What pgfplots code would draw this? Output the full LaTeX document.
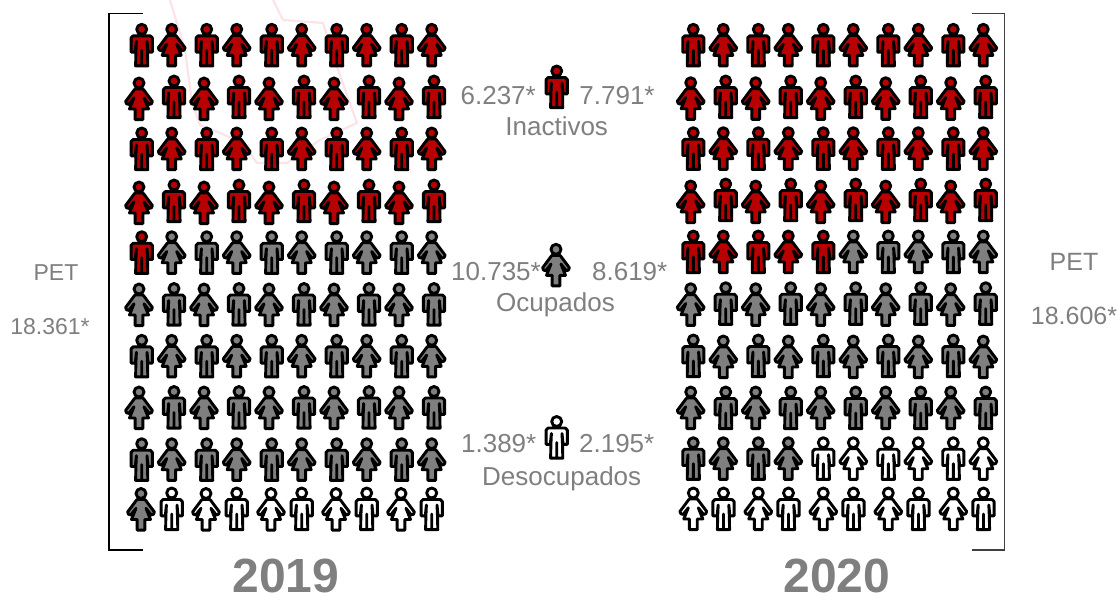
\documentclass[border=0pt]{standalone}
\usepackage{fontspec}
\setmainfont{Liberation Sans}
\usepackage{pgfplots}
\pgfplotsset{compat=1.18}

\definecolor{rojo}{HTML}{B80000}
\definecolor{gris}{HTML}{7F7F7F}
\definecolor{marca}{HTML}{FBE4E9}

\newcommand\mm[2]{\pgfpathmoveto{\pgfqpoint{#1pt}{#2pt}}}
\newcommand\ml[2]{\pgfpathlineto{\pgfqpoint{#1pt}{#2pt}}}

\pgfdeclareplotmark{man}{%
  \pgfsetroundjoin
  \pgfpathcircle{\pgfqpoint{0pt}{16pt}}{5pt}
  \mm{0}{9.5}\ml{8.5}{9.5}\ml{10.6}{7.5}\ml{10.6}{-6.8}\ml{6.4}{-6.8}\ml{5.3}{4}\ml{5.8}{-7}
  \ml{6.1}{-20.6}\ml{0}{-20.6}\ml{0}{-5}\ml{0}{-20.6}\ml{-6.1}{-20.6}
  \ml{-5.8}{-7}\ml{-5.3}{4}\ml{-6.4}{-6.8}\ml{-10.6}{-6.8}\ml{-10.6}{7.5}\ml{-8.5}{9.5}
  \pgfpathclose
  \pgfusepathqfillstroke
}
\pgfdeclareplotmark{woman}{%
  \pgfsetroundjoin
  \pgfpathcircle{\pgfqpoint{0pt}{16pt}}{5pt}
  \mm{0}{10}\ml{3.5}{10}\ml{4.6}{9.3}\ml{13.4}{-2.5}\ml{12.4}{-4.8}\ml{10.2}{-5.4}\ml{5}{1.2}\ml{9.5}{-10}
  \ml{3.9}{-10}\ml{3.9}{-20.6}\ml{-3.9}{-20.6}\ml{-3.9}{-10}\ml{-9.5}{-10}
  \ml{-5}{1.2}\ml{-10.2}{-5.4}\ml{-12.4}{-4.8}\ml{-13.4}{-2.5}\ml{-4.6}{9.3}\ml{-3.5}{10}
  \pgfpathclose
  \pgfusepathqfillstroke
}
\pgfplotsset{
  icon/.style n args={2}{only marks, mark=#1, mark options={draw=black, fill=#2, line width=2.9pt, solid}},
}
\tikzset{
  txt/.style={text=gris, font=\fontsize{26}{26}\selectfont, inner sep=0pt, anchor=base},
  txtizq/.style={text=gris, font=\fontsize{23}{23}\selectfont, inner sep=0pt, anchor=base},
  txtder/.style={text=gris, font=\fontsize{25}{25}\selectfont, inner sep=0pt, anchor=base},
  anio/.style={text=gris, font=\fontsize{48}{48}\selectfont\bfseries, inner sep=0pt, anchor=base},
}

\begin{document}
\begin{tikzpicture}
\begin{axis}[
  width=1117pt, height=597pt, scale only axis,
  xmin=0, xmax=1117, ymin=0, ymax=597, y dir=reverse,
  axis lines=none, clip=true,
]
% watermark
\addplot[marca, line width=2.2pt, line join=round] coordinates {
  (170,0) (185,50) (192,103) (200,125) (220,133) (243,143) (257,163) (287,163) (320,140) (357,123) (337,67) (323,23) (283,20) (273,0)
};
% brackets
\addplot[black, line width=1.5pt] coordinates {(143,13.5) (109,13.5) (109,550) (143,550)};
\addplot[black!75, line width=1.5pt] coordinates {(972,13.5) (1004.3,13.5) (1004.3,550) (972,550)};

% 2019
\addplot[icon={man}{rojo}] coordinates {
  (141.7,45.3) (206.7,45.3) (271.7,45.3) (336.7,45.3) (401.7,45.3)
  (174,97) (239,97) (304,97) (369,97) (434,97)
  (141.7,149) (206.7,149) (271.7,149) (336.7,149) (401.7,149)
  (174,201) (239,201) (304,201) (369,201) (434,201)
  (141.7,252.7)
};
\addplot[icon={woman}{rojo}] coordinates {
  (171.7,45.3) (236.7,45.3) (301.7,45.3) (366.7,45.3) (431.7,45.3)
  (139,99) (204,99) (269,99) (334,99) (399,99)
  (171.7,149) (236.7,149) (301.7,149) (366.7,149) (431.7,149)
  (139,203) (204,203) (269,203) (334,203) (399,203)
};
\addplot[icon={man}{gris}] coordinates {
  (206.7,252.7) (271.7,252.7) (336.7,252.7) (401.7,252.7)
  (174,304.5) (239,304.5) (304,304.5) (369,304.5) (434,304.5)
  (141.7,356.3) (206.7,356.3) (271.7,356.3) (336.7,356.3) (401.7,356.3)
  (174,407.5) (239,407.5) (304,407.5) (369,407.5) (434,407.5)
  (141.7,459.7) (206.7,459.7) (271.7,459.7) (336.7,459.7) (401.7,459.7)
};
\addplot[icon={woman}{gris}] coordinates {
  (171.7,252.7) (236.7,252.7) (301.7,252.7) (366.7,252.7) (431.7,252.7)
  (139,305) (204,305) (269,305) (334,305) (399,305)
  (171.7,356.3) (236.7,356.3) (301.7,356.3) (366.7,356.3) (431.7,356.3)
  (139,408) (204,408) (269,408) (334,408) (399,408)
  (171.7,459.7) (236.7,459.7) (301.7,459.7) (366.7,459.7) (431.7,459.7)
  (141,509.5)
};
\addplot[icon={man}{white}] coordinates {
  (171.7,509) (236.7,509) (301.7,509) (366.7,509) (431.7,509)
};
\addplot[icon={woman}{white}] coordinates {
  (206,509.5) (271,509.5) (336,509.5) (401,509.5)
};

% 2020
\addplot[icon={man}{rojo}] coordinates {
  (693.3,45.3) (758.3,45.3) (823.3,45.3) (888.3,45.3) (953.3,45.3)
  (725.7,97) (790.7,97) (855.7,97) (920.7,97) (985.7,97)
  (693.3,148.7) (758.3,148.7) (823.3,148.7) (888.3,148.7) (953.3,148.7)
  (725.7,200) (790.7,200) (855.7,200) (920.7,200) (985.7,200)
  (693.3,252) (758.3,252) (823.3,252)
};
\addplot[icon={woman}{rojo}] coordinates {
  (723.3,45.3) (788.3,45.3) (853.3,45.3) (918.3,45.3) (983.3,45.3)
  (690.7,98.7) (755.7,98.7) (820.7,98.7) (885.7,98.7) (950.7,98.7)
  (723.3,148.7) (788.3,148.7) (853.3,148.7) (918.3,148.7) (983.3,148.7)
  (690.7,202) (755.7,202) (820.7,202) (885.7,202) (950.7,202)
  (723.3,252) (788.3,252)
};
\addplot[icon={man}{gris}] coordinates {
  (888.3,252) (953.3,252)
  (725.7,303.7) (790.7,303.7) (855.7,303.7) (920.7,303.7) (985.7,303.7)
  (693.3,356) (758.3,356) (823.3,356) (888.3,356) (953.3,356)
  (725.7,408) (790.7,408) (855.7,408) (920.7,408) (985.7,408)
  (693.3,458.7) (758.3,458.7)
};
\addplot[icon={woman}{gris}] coordinates {
  (853.3,252) (918.3,252) (983.3,252)
  (690.7,304.7) (755.7,304.7) (820.7,304.7) (885.7,304.7) (950.7,304.7)
  (723.3,357) (788.3,357) (853.3,357) (918.3,357) (983.3,357)
  (690.7,408) (755.7,408) (820.7,408) (885.7,408) (950.7,408)
  (723.3,458.7) (788.3,458.7)
};
\addplot[icon={man}{white}] coordinates {
  (823.3,458.7) (888.3,458.7) (953.3,458.7)
  (723.5,509) (788.5,509) (853.5,509) (918.5,509) (983.5,509)
};
\addplot[icon={woman}{white}] coordinates {
  (853.3,458.7) (918.3,458.7) (983.3,458.7)
  (693.3,509) (758.3,509) (823.3,509) (888.3,509) (953.3,509)
};

% centre icons
\addplot[icon={man}{rojo}] coordinates {(556.7,87)};
\addplot[icon={woman}{gris}] coordinates {(556,265.3)};
\addplot[icon={man}{white}] coordinates {(556.7,437.5)};

% labels
\node[txtizq] at (axis cs:56,280) {PET};
\node[txtizq] at (axis cs:50,334) {18.361*};
\node[txtder] at (axis cs:1074,270) {PET};
\node[txtder] at (axis cs:1074,324) {18.606*};
\node[txt] at (axis cs:498.2,104) {6.237*};
\node[txt] at (axis cs:617,104) {7.791*};
\node[txt] at (axis cs:556.7,135) {Inactivos};
\node[txt] at (axis cs:496,280) {10.735*};
\node[txt] at (axis cs:629.7,280) {8.619*};
\node[txt] at (axis cs:555.5,311.7) {Ocupados};
\node[txt] at (axis cs:498.7,452.7) {1.389*};
\node[txt] at (axis cs:616.7,452.7) {2.195*};
\node[txt] at (axis cs:561.7,485) {Desocupados};
\node[anio] at (axis cs:286,592) {2019};
\node[anio] at (axis cs:837,592) {2020};
\end{axis}
\pgfresetboundingbox
\path[use as bounding box] (0,0) rectangle (1117pt,597pt);
\end{tikzpicture}
\end{document}
